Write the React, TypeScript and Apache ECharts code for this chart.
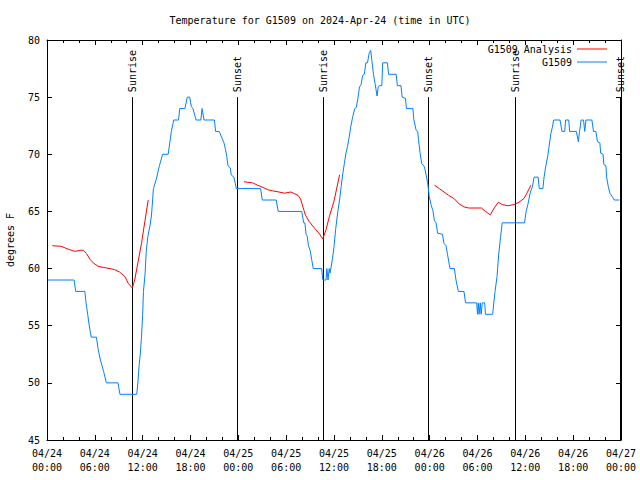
import React, { useEffect, useRef } from "react";
import * as echarts from "echarts";

const FONT = '"DejaVu Sans Mono", "Liberation Mono", monospace';

// hours since 2024-04-24 00:00 UTC
const xTickLabels = [
  "04/24\n00:00", "04/24\n06:00", "04/24\n12:00", "04/24\n18:00",
  "04/25\n00:00", "04/25\n06:00", "04/25\n12:00", "04/25\n18:00",
  "04/26\n00:00", "04/26\n06:00", "04/26\n12:00", "04/26\n18:00",
  "04/27\n00:00",
];

const sunHours = [10.7, 23.85, 34.65, 47.85, 58.75, 71.9];
const sunLabels = ["Sunrise", "Sunset", "Sunrise", "Sunset", "Sunrise", "Sunset"];

const obsHours = [
  0.1, 3.4, 3.6, 4.75, 4.9, 5.1, 5.3, 5.55, 6.2, 6.4, 6.7, 7.1, 7.45, 8.9, 9.15, 11.25,
  11.4, 11.55, 11.7, 11.85, 12.0, 12.1, 12.3, 12.45, 12.65, 12.9, 13.1, 13.25, 13.35, 13.7,
  14.1, 14.5, 15.2, 15.4, 15.6, 15.9, 16.5, 16.65, 17.3, 17.6, 17.9, 18.1, 18.3, 18.7, 19.3,
  19.45, 19.7, 21.0, 21.15, 21.6, 21.9, 22.2, 22.4, 22.55, 22.7, 23.0, 23.1, 23.45, 23.6,
  23.75, 26.8, 27.0, 28.75, 29.0, 31.95, 32.2, 32.35, 32.5, 32.65, 32.8, 33.0, 33.2, 33.4,
  34.45, 34.6, 35.0, 35.1, 35.25, 35.4, 35.5, 35.8, 36.0, 36.2, 36.5, 36.7, 36.9, 37.1,
  37.3, 37.5, 37.7, 37.9, 38.1, 38.35, 38.6, 38.8, 39.0, 39.2, 39.4, 39.6, 39.8, 40.0,
  40.2, 40.4, 40.6, 40.75, 40.95, 41.15, 41.4, 41.55, 41.7, 42.0, 42.1, 42.7, 42.85, 43.8,
  43.95, 44.4, 44.55, 44.95, 45.1, 45.9, 46.0, 46.3, 46.5, 46.6, 46.8, 47.0, 47.35, 47.55,
  47.75, 47.95, 48.2, 48.4, 48.6, 48.8, 49.0, 49.6, 49.8, 50.05, 50.25, 50.55, 51.1, 51.3,
  51.6, 52.3, 52.5, 53.9, 54.0, 54.1, 54.2, 54.35, 54.45, 54.6, 54.9, 55.0, 55.9, 56.05,
  56.2, 56.45, 56.65, 56.9, 57.1, 59.9, 60.1, 60.35, 60.6, 60.9, 61.1, 61.6, 61.75, 62.2,
  62.35, 62.55, 62.8, 63.0, 63.2, 63.4, 63.55, 64.35, 64.5, 64.6, 64.95, 65.05, 65.45,
  65.55, 66.4, 66.65, 66.8, 67.0, 67.3, 67.45, 67.6, 68.35, 68.55, 68.85, 69.05, 69.35,
  69.45, 69.75, 69.85, 70.1, 70.2, 70.4, 70.6, 70.9, 71.15, 71.8,
];
const obsTemps = [
  59, 59, 58, 58, 57, 56, 55, 54, 54, 53, 52, 51, 50, 50, 49, 49,
  50, 51.5, 52.5, 54, 56, 58, 59.5, 61.5, 62.8, 63.7, 64.6, 66, 67, 67.8,
  69, 70, 70, 71, 72, 73, 73, 74, 74, 75, 75, 74.2, 74, 73, 73,
  74, 73, 73, 72, 72, 71.5, 71, 70.4, 69.8, 69, 68.8, 68.2, 68, 67.5,
  67, 67, 66, 66, 65, 65, 64, 64, 63, 62.8, 62, 61.6, 60.8, 60,
  60, 59, 59, 60, 59, 60, 59.6, 60.8, 61.9, 63.4, 65.1, 66, 67.2, 68.3,
  69.2, 70.1, 70.7, 71.5, 72.4, 73.3, 74, 74.1, 74.9, 75.9, 76.1, 76.9, 77, 78,
  78, 78.8, 79.1, 78.2, 77, 76.2, 75.1, 75.9, 76, 76, 78, 78, 77, 77,
  76, 76, 75, 74.9, 74, 74, 73.1, 72.1, 72, 71.3, 70.1, 69.2, 68.9, 68.2,
  67.5, 66.3, 65.5, 65.1, 64.2, 64, 63.1, 63, 62.2, 62, 61.2, 60, 60, 59,
  58, 58, 57, 57, 56, 57, 56, 57, 56, 57, 57, 56, 56, 57,
  58, 59.3, 61.2, 62.8, 64, 64, 65, 65.7, 66.6, 67.2, 68, 68, 67, 67,
  68, 68.9, 69.8, 70.8, 71.8, 72.4, 73, 73, 72.4, 72, 72, 73, 73,
  72, 72, 71.1, 72, 73, 73, 72, 73, 73, 72, 72, 71.1, 71,
  70.1, 70, 69.1, 69, 68, 67.2, 66.6, 66.3, 66, 66,
];

// analysis: three separate runs (null marks a gap)
const anaHours = [
  0.67, 1.75, 2.3, 2.67, 3.5, 4.13, 4.55, 4.97, 5.4, 5.8, 6.4, 7.05, 7.9, 8.5, 9.1, 9.77,
  10.2, 10.7, 11.0, 11.4, 11.85, 12.27, 12.7,
  18.0,
  24.7, 25.2, 25.8, 26.4, 27.1, 27.7, 28.3, 29.1, 29.8, 30.6, 31.5, 31.8, 32.1, 32.4,
  32.9, 33.6, 34.1, 34.6, 35.0, 35.4, 36.0, 36.7,
  42.0,
  48.6, 49.2, 49.8, 50.4, 51.1, 51.7, 52.3, 52.9, 54.5, 55.0, 55.6, 56.1, 56.6, 57.1,
  57.8, 58.6, 59.2, 59.85, 60.2, 60.7,
];
const anaTemps: (number | null)[] = [
  62.0, 61.95, 61.8, 61.7, 61.5, 61.6, 61.6, 61.3, 60.8, 60.5, 60.2, 60.1, 60.0, 59.9, 59.7, 59.3,
  58.7, 58.3, 59.0, 60.5, 62.2, 64.1, 66.0,
  null,
  67.6, 67.55, 67.5, 67.3, 67.1, 66.9, 66.8, 66.7, 66.6, 66.7, 66.4, 66.1, 65.4, 64.7,
  64.1, 63.5, 63.1, 62.6, 63.4, 64.5, 65.9, 68.2,
  null,
  67.3, 67.0, 66.7, 66.4, 66.1, 65.65, 65.4, 65.3, 65.3, 65.0, 64.7, 65.3, 65.8, 65.6,
  65.5, 65.6, 65.8, 66.15, 66.6, 67.3,
];

export default function App() {
  const ref = useRef<HTMLDivElement>(null);
  useEffect(() => {
    if (!ref.current) return;
    const chart = echarts.init(ref.current, null, { renderer: "svg" });
    const axisCommon = {
      min: 0,
      max: 72,
      interval: 6,
      axisLine: { show: true, onZero: false, lineStyle: { color: "#000", width: 1 } },
      axisTick: { show: true, inside: true, length: 5, lineStyle: { color: "#000" } },
      minorTick: { show: true, splitNumber: 3, length: 3, lineStyle: { color: "#000" } },
      splitLine: { show: false },
      minorSplitLine: { show: false },
    };
    const yCommon = {
      min: 45,
      max: 80,
      interval: 5,
      axisLine: { show: true, onZero: false, lineStyle: { color: "#000", width: 1 } },
      axisTick: { show: true, inside: true, length: 5, lineStyle: { color: "#000" } },
      splitLine: { show: false },
    };
    chart.setOption({
      animation: false,
      backgroundColor: "#fff",
      title: {
        text: "Temperature for G1509 on 2024-Apr-24 (time in UTC)",
        left: "center",
        top: 10,
        textStyle: { fontFamily: FONT, fontSize: 10, fontWeight: "normal", color: "#000" },
      },
      legend: {
        orient: "vertical",
        right: 28,
        top: 38,
        align: "right",
        icon: "rect",
        itemWidth: 30,
        itemHeight: 1,
        itemGap: 1,
        textStyle: { fontFamily: FONT, fontSize: 10, lineHeight: 12, color: "#000" },
        data: ["G1509 Analysis", "G1509"],
      },
      grid: { left: 47, right: 19, top: 40, bottom: 40, outerBoundsMode: "none", containLabel: false },
      xAxis: [
        {
          type: "value",
          position: "bottom",
          ...axisCommon,
          axisLabel: {
            show: true,
            margin: 6,
            fontFamily: FONT,
            fontSize: 10,
            lineHeight: 14,
            color: "#000",
            formatter: (v: number) => xTickLabels[Math.round(v / 6)] ?? "",
          },
        },
        {
          type: "value",
          position: "top",
          ...axisCommon,
          axisLabel: { show: false },
        },
      ],
      yAxis: [
        {
          type: "value",
          position: "left",
          ...yCommon,
          name: "degrees F",
          nameLocation: "middle",
          nameRotate: 90,
          nameGap: 32,
          nameTextStyle: { fontFamily: FONT, fontSize: 10, color: "#000" },
          axisLabel: { show: true, margin: 7, fontFamily: FONT, fontSize: 10, color: "#000" },
        },
        {
          type: "value",
          position: "right",
          ...yCommon,
          axisLabel: { show: false },
        },
      ],
      series: [
        {
          name: "G1509 Analysis",
          type: "line",
          xAxisIndex: 0,
          yAxisIndex: 0,
          symbol: "none",
          connectNulls: false,
          lineStyle: { color: "#ff0000", width: 1 },
          itemStyle: { color: "#ff0000" },
          data: anaHours.map((h, i) => [h, anaTemps[i] === null ? "-" : anaTemps[i]]),
          z: 3,
        },
        {
          name: "G1509",
          type: "line",
          xAxisIndex: 0,
          yAxisIndex: 0,
          symbol: "none",
          lineStyle: { color: "#0080ff", width: 1 },
          itemStyle: { color: "#0080ff" },
          data: obsHours.map((h, i) => [h, obsTemps[i]]),
          z: 3,
        },
        {
          name: "sun",
          type: "custom",
          xAxisIndex: 0,
          yAxisIndex: 0,
          clip: false,
          silent: true,
          z: 2,
          data: sunHours.map((h) => [h, 45]),
          renderItem: (params: any, api: any) => {
            const h = api.value(0);
            const bottom = api.coord([h, 45]);
            const top = api.coord([h, 75]);
            const x = Math.round(bottom[0]) + 0.5;
            return {
              type: "group",
              children: [
                {
                  type: "line",
                  shape: { x1: x, y1: bottom[1], x2: x, y2: top[1] },
                  style: { stroke: "#000", lineWidth: 1 },
                },
                {
                  type: "text",
                  x: x,
                  y: top[1] - 5,
                  rotation: Math.PI / 2,
                  style: {
                    text: sunLabels[params.dataIndex],
                    font: `10px ${FONT}`,
                    fill: "#000",
                    align: "left",
                    verticalAlign: "middle",
                  },
                },
              ],
            };
          },
        },
      ],
    });
    return () => chart.dispose();
  }, []);
  return (
    <div
      ref={ref}
      style={{ position: "fixed", left: 0, top: 0, width: 640, height: 480, background: "#fff" }}
    />
  );
}
